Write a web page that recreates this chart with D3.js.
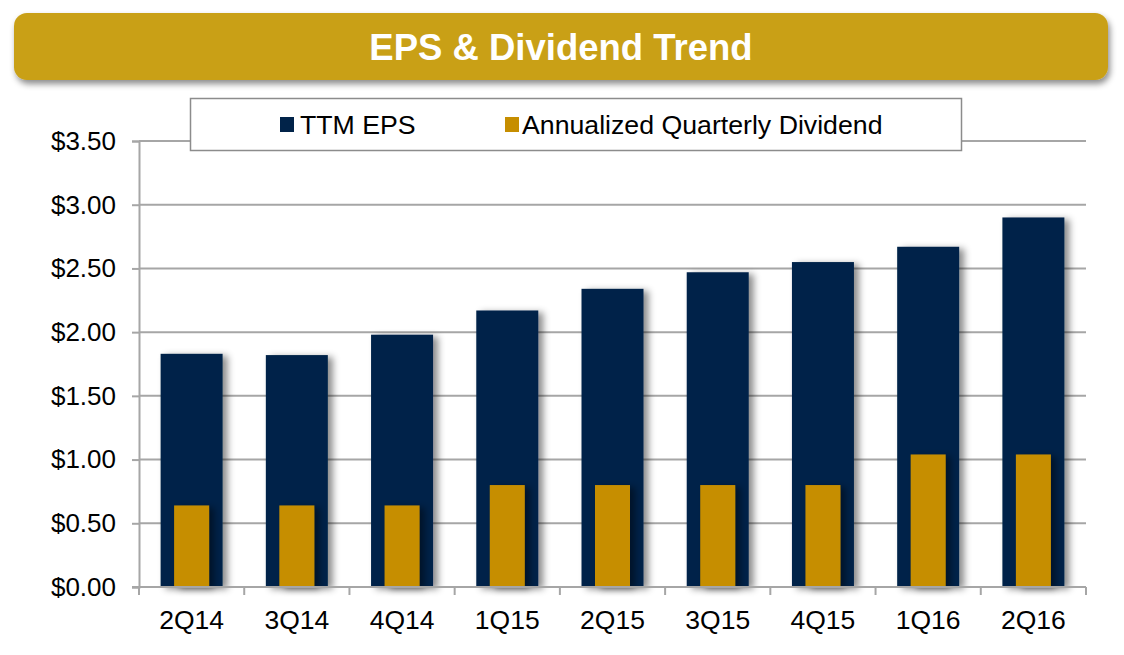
<!DOCTYPE html>
<html>
<head>
<meta charset="utf-8">
<script src="https://cdn.jsdelivr.net/npm/d3@7/dist/d3.min.js"></script>
<style>
  html, body { margin: 0; padding: 0; background: #ffffff; }
  svg { display: block; font-family: "Liberation Sans", Arial, Helvetica, sans-serif; }
</style>
</head>
<body>
<svg id="chart" width="1124" height="655"></svg>
<script>
// ---- data ----
const categories = ["2Q14", "3Q14", "4Q14", "1Q15", "2Q15", "3Q15", "4Q15", "1Q16", "2Q16"];
const ttmEps = [1.83, 1.82, 1.98, 2.17, 2.34, 2.47, 2.55, 2.67, 2.90];
const annualizedDividend = [0.64, 0.64, 0.64, 0.80, 0.80, 0.80, 0.80, 1.04, 1.04];
const yTicks = [0, 0.5, 1.0, 1.5, 2.0, 2.5, 3.0, 3.5];
const seriesNames = ["TTM EPS", "Annualized Quarterly Dividend"];
const title = "EPS & Dividend Trend";

// ---- styles ----
const navy = "#012349";
const gold = "#C68E00";
const banner = "#C9A018";
const gridColor = "#A6A6A6";

const svg = d3.select("#chart");
const defs = svg.append("defs");

const sh = defs.append("filter").attr("id", "barShadow")
  .attr("x", "-20%").attr("y", "-10%").attr("width", "160%").attr("height", "130%");
sh.append("feDropShadow").attr("dx", 5).attr("dy", 2).attr("stdDeviation", 3.5)
  .attr("flood-color", "#000").attr("flood-opacity", 0.45);

const bs = defs.append("filter").attr("id", "bannerShadow")
  .attr("x", "-5%").attr("y", "-20%").attr("width", "110%").attr("height", "160%");
bs.append("feDropShadow").attr("dx", 2).attr("dy", 4).attr("stdDeviation", 3)
  .attr("flood-color", "#000").attr("flood-opacity", 0.45);

// ---- title banner ----
svg.append("rect")
  .attr("x", 14).attr("y", 13).attr("width", 1094).attr("height", 67)
  .attr("rx", 13).attr("ry", 13)
  .attr("fill", banner)
  .attr("filter", "url(#bannerShadow)");
svg.append("text")
  .attr("x", 561).attr("y", 60)
  .attr("text-anchor", "middle")
  .attr("fill", "#ffffff")
  .attr("font-weight", "bold")
  .attr("font-size", 36.5)
  .text(title);

// ---- scales ----
const margin = { left: 139, right: 1086, top: 141, bottom: 587 };
const x = d3.scaleBand().domain(categories).range([margin.left, margin.right]).paddingInner(0).paddingOuter(0);
const y = d3.scaleLinear().domain([0, 3.5]).range([margin.bottom, margin.top]);

// ---- gridlines ----
svg.append("g").selectAll("line").data(yTicks.filter(d => d > 0)).join("line")
  .attr("x1", margin.left).attr("x2", margin.right)
  .attr("y1", d => y(d)).attr("y2", d => y(d))
  .attr("stroke", gridColor).attr("stroke-width", 2);

// ---- y axis ----
const yAxis = svg.append("g")
  .attr("transform", `translate(${margin.left},0)`)
  .call(d3.axisLeft(y).tickValues(yTicks).tickSize(7).tickPadding(16).tickFormat(d => "$" + d3.format(".2f")(d)));
yAxis.select(".domain").attr("stroke", gridColor).attr("stroke-width", 2);
yAxis.selectAll(".tick line").attr("stroke", gridColor).attr("stroke-width", 2);
yAxis.selectAll(".tick text").attr("font-size", 26).attr("fill", "#000")
  .attr("font-family", "Liberation Sans, Arial, sans-serif");

// ---- bars ----
const epsW = 62, divW = 35;
svg.append("g").selectAll("rect").data(categories).join("rect")
  .attr("x", (d) => x(d) + x.bandwidth() / 2 - epsW / 2)
  .attr("width", epsW)
  .attr("y", (d, i) => y(ttmEps[i]))
  .attr("height", (d, i) => y(0) - y(ttmEps[i]))
  .attr("fill", navy)
  .attr("filter", "url(#barShadow)");

svg.append("g").selectAll("rect").data(categories).join("rect")
  .attr("x", (d) => x(d) + x.bandwidth() / 2 - divW / 2)
  .attr("width", divW)
  .attr("y", (d, i) => y(annualizedDividend[i]))
  .attr("height", (d, i) => y(0) - y(annualizedDividend[i]))
  .attr("fill", gold)
  .attr("filter", "url(#barShadow)");

// ---- x axis ----
const xAxisG = svg.append("g").attr("transform", `translate(0,${margin.bottom})`);
xAxisG.append("line")
  .attr("x1", margin.left - 7).attr("x2", margin.right)
  .attr("y1", 0).attr("y2", 0)
  .attr("stroke", gridColor).attr("stroke-width", 2);
const boundaries = categories.map(c => x(c)).concat([margin.right]);
xAxisG.selectAll("line.tk").data(boundaries).join("line").attr("class", "tk")
  .attr("x1", d => d).attr("x2", d => d)
  .attr("y1", 0).attr("y2", 8)
  .attr("stroke", gridColor).attr("stroke-width", 2);
xAxisG.selectAll("text").data(categories).join("text")
  .attr("x", d => x(d) + x.bandwidth() / 2)
  .attr("y", 42)
  .attr("text-anchor", "middle")
  .attr("font-size", 26.5)
  .attr("fill", "#000")
  .text(d => d);

// ---- legend ----
const lg = svg.append("g");
lg.append("rect")
  .attr("x", 190.5).attr("y", 98.5).attr("width", 771).attr("height", 52)
  .attr("fill", "#fff").attr("stroke", "#8c8c8c").attr("stroke-width", 1.5);
const legendItems = [
  { name: seriesNames[0], color: navy, mx: 280, tx: 300 },
  { name: seriesNames[1], color: gold, mx: 505, tx: 522 }
];
legendItems.forEach(it => {
  lg.append("rect").attr("x", it.mx).attr("y", 117).attr("width", 14).attr("height", 15).attr("fill", it.color);
  lg.append("text").attr("x", it.tx).attr("y", 134).attr("font-size", 26.7).attr("fill", "#000").text(it.name);
});
</script>
</body>
</html>
